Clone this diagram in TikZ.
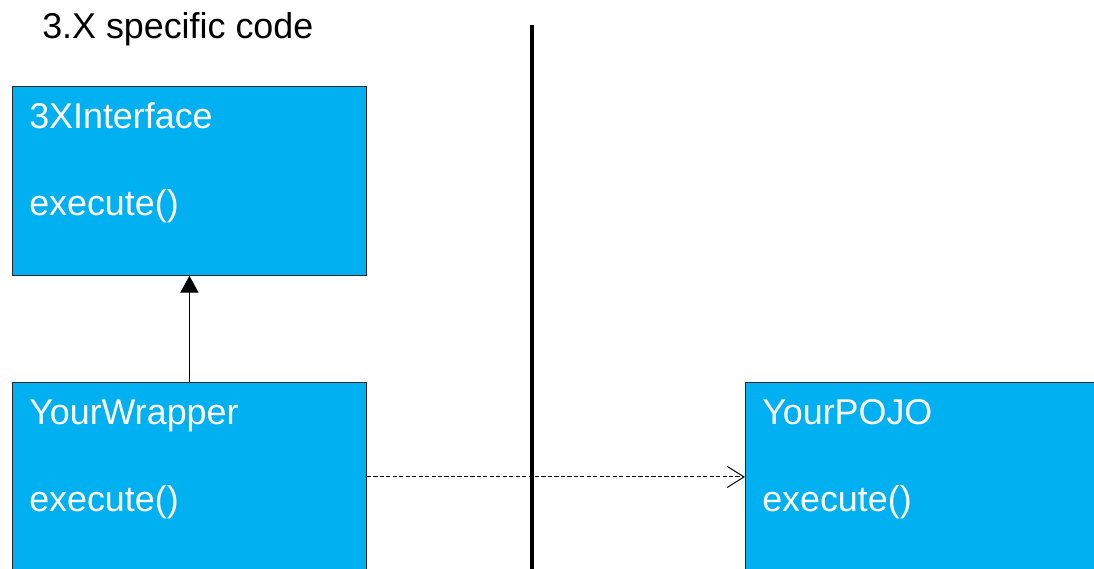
\documentclass[tikz,border=0pt]{standalone}
\usepackage{fontspec}
\setmainfont{Liberation Sans}
\usepackage{tikz}
\usetikzlibrary{arrows.meta, positioning}
\definecolor{classblue}{RGB}{0,176,240}
\definecolor{classedge}{RGB}{40,40,50}

\begin{document}
\begin{tikzpicture}[
    cls/.style={rectangle, draw=classedge, line width=0.6pt, fill=classblue,
                minimum width=8.85cm, minimum height=4.725cm, inner sep=0pt,
                anchor=north west},
    member/.style={text=white, font=\fontsize{25.5}{30}\selectfont,
                   inner sep=0pt, anchor=base west},
    inherit/.style={-{Triangle[length=12pt, width=13pt]}, line width=0.8pt},
    uses/.style={-{Straight Barb[length=12pt, width=15pt]}, line width=0.7pt,
                 dash pattern=on 3pt off 1.6pt},
]
    \clip (0,0) rectangle (27.35,-14.225);

    \node[member, text=black] (title) at (1.05,-0.95) {3.X specific code};

    % class boxes
    \node[cls] (iface)   at (0.3,-2.15)     {};
    \node[cls] (wrapper) at (0.3,-9.55)     {};
    \node[cls] (pojo)    at (18.625,-9.55)  {};

    \node[member] (ifname)  at ([shift={(0.425,-1.05)}]iface.north west)   {3XInterface};
    \node[member] (ifexec)  at ([shift={(0.425,-3.225)}]iface.north west)  {execute()};
    \node[member] (wrname)  at ([shift={(0.425,-1.05)}]wrapper.north west) {YourWrapper};
    \node[member] (wrexec)  at ([shift={(0.425,-3.225)}]wrapper.north west) {execute()};
    \node[member] (pjname)  at ([shift={(0.425,-1.05)}]pojo.north west)    {YourPOJO};
    \node[member] (pjexec)  at ([shift={(0.425,-3.225)}]pojo.north west)   {execute()};

    % version boundary
    \coordinate (cut top) at (13.3,-0.62);
    \coordinate (cut bottom) at (13.3,-14.5);
    \draw[line width=2.2pt] (cut top) -- (cut bottom);

    \draw[inherit] (wrapper.north) -- (iface.south);
    \draw[uses] (wrapper.east) -- (pojo.west);
\end{tikzpicture}
\end{document}
